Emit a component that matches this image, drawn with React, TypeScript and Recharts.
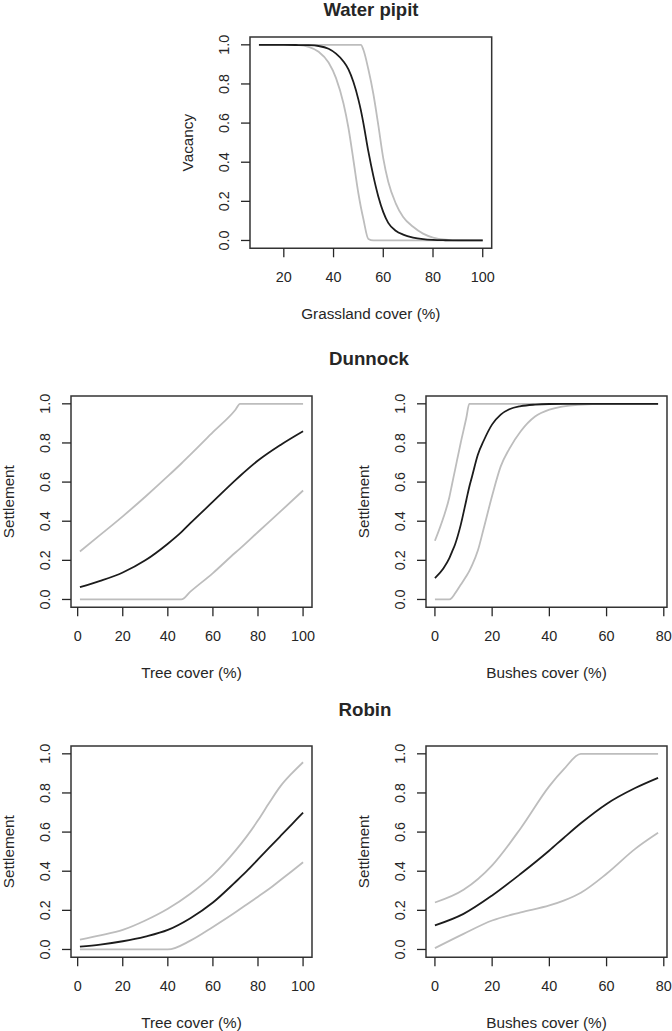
import { LineChart, Line, XAxis, YAxis, ReferenceArea } from "recharts";

const FONT = '"Liberation Sans", Arial, Helvetica, sans-serif';
const INK = "#262626";
const GREY = "#bdbdbd";
const DARK = "#1c1c1c";

// Water pipit - vacancy vs grassland cover
const pipitCover = [10, 20, 26, 30, 34, 38, 41, 44, 46, 48, 50, 51, 52, 54, 56, 58, 60, 62, 65, 68, 72, 76, 80, 85, 90, 100];
const pipitMean = [1, 1, 0.999, 0.998, 0.994, 0.98, 0.955, 0.915, 0.875, 0.81, 0.72, 0.665, 0.6, 0.455, 0.33, 0.225, 0.145, 0.09, 0.05, 0.03, 0.015, 0.007, 0.003, 0.001, 0, 0];
const pipitLow = [1, 1, 0.999, 0.99, 0.965, 0.91, 0.83, 0.7, 0.575, 0.41, 0.24, 0.17, 0.11, 0.008, 0, 0, 0, 0, 0, 0, 0, 0, 0, 0, 0, 0];
const pipitHigh = [1, 1, 1, 1, 1, 1, 1, 1, 1, 1, 1, 1, 0.975, 0.875, 0.75, 0.59, 0.42, 0.3, 0.19, 0.12, 0.07, 0.035, 0.015, 0.004, 0.001, 0];

// Dunnock - settlement vs tree cover
const dunTree = [1, 10, 20, 30, 40, 46, 50, 60, 70, 72, 80, 90, 100];
const dunTreeMean = [0.063, 0.095, 0.138, 0.2, 0.285, 0.344, 0.39, 0.5, 0.61, 0.631, 0.71, 0.79, 0.86];
const dunTreeLow = [0, 0, 0, 0, 0, 0, 0.04, 0.135, 0.24, 0.26, 0.345, 0.45, 0.557];
const dunTreeHigh = [0.245, 0.33, 0.425, 0.525, 0.63, 0.695, 0.74, 0.855, 0.97, 1, 1, 1, 1];

// Dunnock - settlement vs bushes cover
const dunBush = [0, 3, 5, 6, 7, 9, 11, 12, 13, 15, 17, 20, 23, 26, 30, 35, 40, 50, 60, 78];
const dunBushMean = [0.109, 0.16, 0.21, 0.245, 0.28, 0.38, 0.51, 0.575, 0.63, 0.74, 0.81, 0.895, 0.945, 0.972, 0.988, 0.996, 0.999, 1, 1, 1];
const dunBushLow = [0, 0, 0, 0.01, 0.03, 0.075, 0.12, 0.145, 0.175, 0.25, 0.36, 0.53, 0.68, 0.77, 0.86, 0.935, 0.97, 0.995, 1, 1];
const dunBushHigh = [0.3, 0.42, 0.52, 0.59, 0.66, 0.8, 0.93, 1, 1, 1, 1, 1, 1, 1, 1, 1, 1, 1, 1, 1];

// Robin - settlement vs tree cover
const robTree = [1, 10, 20, 30, 40, 50, 60, 70, 75, 80, 85, 90, 95, 100];
const robTreeMean = [0.015, 0.025, 0.042, 0.066, 0.1, 0.16, 0.24, 0.345, 0.4, 0.46, 0.52, 0.58, 0.64, 0.7];
const robTreeLow = [0, 0, 0, 0, 0, 0.045, 0.115, 0.19, 0.23, 0.27, 0.31, 0.355, 0.4, 0.446];
const robTreeHigh = [0.05, 0.072, 0.1, 0.148, 0.208, 0.285, 0.38, 0.505, 0.578, 0.66, 0.75, 0.835, 0.9, 0.957];

// Robin - settlement vs bushes cover
const robBush = [0, 10, 20, 30, 40, 45, 51, 60, 70, 78];
const robBushMean = [0.123, 0.182, 0.276, 0.387, 0.506, 0.57, 0.645, 0.744, 0.825, 0.877];
const robBushLow = [0.007, 0.08, 0.148, 0.19, 0.225, 0.25, 0.29, 0.387, 0.514, 0.596];
const robBushHigh = [0.24, 0.305, 0.43, 0.62, 0.835, 0.92, 1, 1, 1, 1];

const yTicks = [0, 0.2, 0.4, 0.6, 0.8, 1.0];
const pipitTicks = [20, 40, 60, 80, 100];
const treeTicks = [0, 20, 40, 60, 80, 100];
const bushTicks = [0, 20, 40, 60, 80];

const XTick = (p: any) => (
  <text x={p.x} y={p.y + 24.5} textAnchor="middle" fontSize={14.4} fill={INK} fontFamily={FONT}>
    {p.payload.value}
  </text>
);

const YTick = (p: any) => {
  const bx = p.x - 11.7;
  return (
    <text x={bx} y={p.y} transform={`rotate(-90 ${bx} ${p.y})`} textAnchor="middle" fontSize={14.4} fill={INK} fontFamily={FONT}>
      {Number(p.payload.value).toFixed(1)}
    </text>
  );
};

type PanelProps = {
  left: number;
  top: number;
  width: number;
  cover: number[];
  mean: number[];
  low: number[];
  high: number[];
  xDomain: [number, number];
  xTicks: number[];
  xTitle: string;
  yTitle: string;
};

const H = 211.3;

const Panel = ({ left, top, width, cover, mean, low, high, xDomain, xTicks, xTitle, yTitle }: PanelProps) => {
  const data = cover.map((x, i) => ({ x, mean: mean[i], low: low[i], high: high[i] }));
  return (
    <div style={{ position: "absolute", left: left - 70, top: top - 10 }}>
      <LineChart width={width + 80} height={H + 100} data={data} margin={{ top: 10, right: 10, bottom: 0, left: 0 }}>
        <XAxis
          type="number"
          dataKey="x"
          domain={xDomain}
          ticks={xTicks}
          interval={0}
          allowDataOverflow
          axisLine={false}
          tickLine={{ stroke: INK, strokeWidth: 1.3 }}
          tickSize={9}
          tickMargin={0}
          height={90}
          tick={XTick}
          label={() => (
            <text x={70 + width / 2} y={10 + H + 71} textAnchor="middle" fontSize={15.3} fill={INK} fontFamily={FONT}>
              {xTitle}
            </text>
          )}
        />
        <YAxis
          type="number"
          domain={[-0.04, 1.04]}
          ticks={yTicks}
          interval={0}
          allowDataOverflow
          axisLine={false}
          tickLine={{ stroke: INK, strokeWidth: 1.3 }}
          tickSize={9}
          tickMargin={0}
          width={70}
          tick={YTick}
          label={() => (
            <text
              x={13}
              y={10 + H / 2}
              transform={`rotate(-90 13 ${10 + H / 2})`}
              textAnchor="middle"
              fontSize={15.3}
              fill={INK}
              fontFamily={FONT}
            >
              {yTitle}
            </text>
          )}
        />
        <ReferenceArea
          x1={xDomain[0]}
          x2={xDomain[1]}
          y1={-0.04}
          y2={1.04}
          fill="none"
          stroke="#333"
          strokeWidth={1.5}
          ifOverflow="visible"
        />
        <Line type="monotone" dataKey="low" stroke={GREY} strokeWidth={1.8} dot={false} isAnimationActive={false} />
        <Line type="monotone" dataKey="high" stroke={GREY} strokeWidth={1.8} dot={false} isAnimationActive={false} />
        <Line type="monotone" dataKey="mean" stroke={DARK} strokeWidth={1.8} dot={false} isAnimationActive={false} />
      </LineChart>
    </div>
  );
};

export default function App() {
  return (
    <div style={{ position: "absolute", left: 0, top: 0, width: 672, height: 1031, overflow: "hidden", background: "#fff" }}>
      <Panel
        left={250}
        top={37.2}
        width={241.7}
        cover={pipitCover}
        mean={pipitMean}
        low={pipitLow}
        high={pipitHigh}
        xDomain={[6.4, 103.6]}
        xTicks={pipitTicks}
        xTitle="Grassland cover (%)"
        yTitle="Vacancy"
      />
      <Panel
        left={70.7}
        top={395.5}
        width={241}
        cover={dunTree}
        mean={dunTreeMean}
        low={dunTreeLow}
        high={dunTreeHigh}
        xDomain={[-2.96, 103.96]}
        xTicks={treeTicks}
        xTitle="Tree cover (%)"
        yTitle="Settlement"
      />
      <Panel
        left={426}
        top={395.5}
        width={241}
        cover={dunBush}
        mean={dunBushMean}
        low={dunBushLow}
        high={dunBushHigh}
        xDomain={[-3.12, 81.12]}
        xTicks={bushTicks}
        xTitle="Bushes cover (%)"
        yTitle="Settlement"
      />
      <Panel
        left={70.7}
        top={745.5}
        width={241}
        cover={robTree}
        mean={robTreeMean}
        low={robTreeLow}
        high={robTreeHigh}
        xDomain={[-2.96, 103.96]}
        xTicks={treeTicks}
        xTitle="Tree cover (%)"
        yTitle="Settlement"
      />
      <Panel
        left={426}
        top={745.5}
        width={241}
        cover={robBush}
        mean={robBushMean}
        low={robBushLow}
        high={robBushHigh}
        xDomain={[-3.12, 81.12]}
        xTicks={bushTicks}
        xTitle="Bushes cover (%)"
        yTitle="Settlement"
      />
      <svg width={672} height={1031} style={{ position: "absolute", left: 0, top: 0, pointerEvents: "none" }}>
        <text x={371} y={16} textAnchor="middle" fontSize={18.5} fontWeight="bold" fill={INK} fontFamily={FONT}>
          Water pipit
        </text>
        <text x={369} y={365} textAnchor="middle" fontSize={18.7} fontWeight="bold" fill={INK} fontFamily={FONT}>
          Dunnock
        </text>
        <text x={365} y={716} textAnchor="middle" fontSize={18.7} fontWeight="bold" fill={INK} fontFamily={FONT}>
          Robin
        </text>
      </svg>
    </div>
  );
}
